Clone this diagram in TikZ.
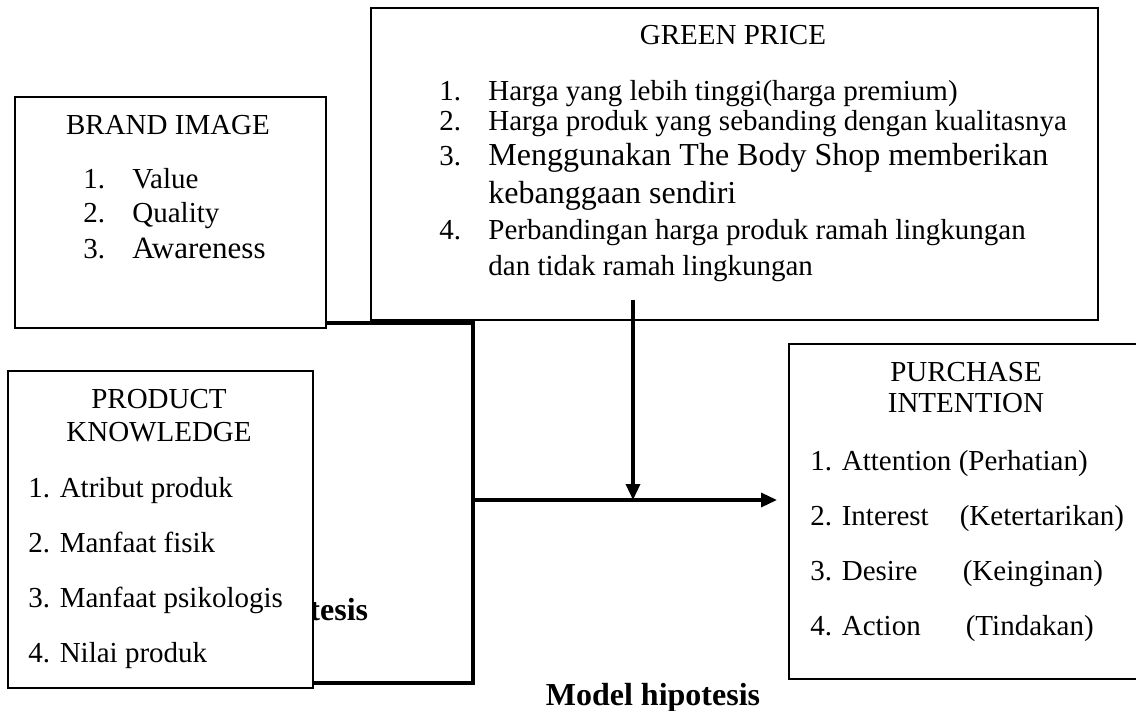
\documentclass[tikz,border=0pt]{standalone}
\usepackage{fontspec}
\setmainfont{Liberation Serif}
\usetikzlibrary{arrows.meta}

\begin{document}
\begin{tikzpicture}[x=0.5pt, y=-0.5pt,
        box/.style={rectangle, draw, line width=1.1pt, fill=white, anchor=north west, inner sep=0pt},
        head/.style={inner sep=0pt, anchor=base, align=center, font=\fontsize{14.5}{17}\selectfont},
        items/.style={inner sep=0pt, anchor=base west, align=left, font=\fontsize{14.5}{27.5}\selectfont},
        caption/.style={inner sep=0pt, anchor=base, font=\fontsize{16}{19}\selectfont\bfseries},
        link/.style={line width=1.7pt},
        arrow/.style={-{Triangle[length=8pt, width=7pt]}, line width=1.7pt}]
    \useasboundingbox (0,0) rectangle (1136,711);

    % caption that sits behind the product knowledge box
    \node[caption] (capa) at (261,620) {Model hipotesis};

    % multi-line nodes sit on the baseline of their last line
    \node[box, minimum width=155.5pt, minimum height=115.5pt] (bi) at (14,96) {};
    \node[head] (bih) at (168,135) {BRAND IMAGE};
    \node[items, font=\fontsize{14.5}{17}\selectfont] (bil) at (83,259)
        {\makebox[24.5pt][l]{1.}Value\\\makebox[24.5pt][l]{2.}Quality\\[1pt]
         \makebox[24.5pt][l]{3.}{\fontsize{15.5}{17}\selectfont Awareness}};

    \node[box, minimum width=363.5pt, minimum height=156pt] (gp) at (370,7) {};
    \node[head] (gph) at (733,45) {GREEN PRICE};
    \node[items, font=\fontsize{14.5}{15}\selectfont] (gpl) at (439,276)
        {\makebox[24.5pt][l]{1.}Harga yang lebih tinggi(harga premium)\\
         \makebox[24.5pt][l]{2.}Harga produk yang sebanding dengan kualitasnya\\[2.5pt]
         \makebox[24.5pt][l]{3.}{\fontsize{16}{15}\selectfont Menggunakan The Body Shop memberikan}\\[4pt]
         \hspace*{24.5pt}{\fontsize{16}{15}\selectfont kebanggaan sendiri}\\[3pt]
         \makebox[24.5pt][l]{4.}Perbandingan harga produk ramah lingkungan\\[3pt]
         \hspace*{24.5pt}dan tidak ramah lingkungan};

    \node[box, minimum width=152.5pt, minimum height=158.5pt] (pk) at (7,370) {};
    \node[head] (pkh) at (159,442) {PRODUCT\\KNOWLEDGE};
    \node[items] (pkl) at (28,662)
        {1. Atribut produk\\2. Manfaat fisik\\3. Manfaat psikologis\\4. Nilai produk};

    \node[box, minimum width=175pt, minimum height=167.5pt] (pi) at (788,343) {};
    \node[head, font=\fontsize{14.5}{15.5}\selectfont] (pih) at (966,413) {PURCHASE\\INTENTION};
    \node[items] (pil) at (810,635)
        {1. \makebox[58.5pt][l]{Attention}(Perhatian)\\
         2. \makebox[59pt][l]{Interest}(Ketertarikan)\\
         3. \makebox[60.5pt][l]{Desire}(Keinginan)\\
         4. \makebox[62pt][l]{Action}(Tindakan)};

    \node[caption] (capb) at (653,705) {Model hipotesis};

    % joints of the connector
    \coordinate (jtop) at (473,323);
    \coordinate (jmid) at (473,500);
    \coordinate (jbot) at (473,683);
    \coordinate (gpin) at (633,300);

    \draw[link] (bi.east |- jtop) -- (jtop) -- (jbot) -- (pk.east |- jbot);
    \draw[arrow, shorten >=5.5pt] (jmid) -- (pi.west |- jmid);
    \draw[arrow] (gpin) -- (gpin |- jmid);
\end{tikzpicture}
\end{document}
